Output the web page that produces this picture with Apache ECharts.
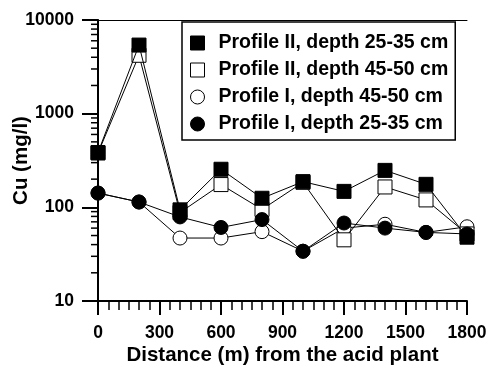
<!DOCTYPE html>
<html>
<head>
<meta charset="utf-8">
<script src="https://cdn.jsdelivr.net/npm/echarts@6/dist/echarts.min.js"></script>
<style>html,body{margin:0;padding:0;background:#fff;}#c{width:488px;height:365px;}</style>
</head>
<body>
<div id="c"></div>
<script>
var distances = [0, 200, 400, 600, 800, 1000, 1200, 1400, 1600, 1800];
var p2Deep25 = [385, 5400, 94, 255, 125, 188, 148, 248, 176, 48];
var p2Deep45 = [380, 4200, 88, 175, 95, 185, 45, 165, 120, 52];
var p1Deep45 = [142, 114, 47, 47, 55, 34, 60, 66, 54, 62];
var p1Deep25 = [142, 114, 79, 61, 74, 34, 68, 60, 54, 52];
var seriesNames = ['Profile II, depth 25-35 cm', 'Profile II, depth 45-50 cm', 'Profile I, depth 45-50 cm', 'Profile I, depth 25-35 cm'];
var yMinorTickValues = [20,30,40,50,60,70,80,90,200,300,400,500,600,700,800,900,2000,3000,4000,5000,6000,7000,8000,9000];
var xTitle = 'Distance (m) from the acid plant';
var yTitle = 'Cu (mg/l)';

function pairs(vals){ return distances.map(function(d,i){ return [d, vals[i]]; }); }
var FONT = '"Liberation Sans", Arial, sans-serif';
var chart = echarts.init(document.getElementById('c'), null, {renderer:'canvas'});
var lineStyle = {color:'#000', width:1};
function mk(name, vals, symbol, filled, z){
  return {
    name: name, type:'line', data: pairs(vals), symbol: symbol, symbolSize: 14,
    lineStyle: lineStyle, z: z, xAxisIndex:0, yAxisIndex:0,
    itemStyle: {color: filled ? '#000' : '#fff', borderColor:'#000', borderWidth: 1, opacity:1},
    emphasis:{disabled:true}, animation:false
  };
}
var labelStyle = {fontFamily:FONT, fontWeight:'bold', fontSize:17.5, color:'#000'};
var nameStyle = {fontFamily:FONT, fontWeight:'bold', fontSize:20.5, color:'#000'};
chart.setOption({
  animation:false,
  grid:{left:98, right:21, top:20, bottom:64, outerBoundsMode:'none'},
  legend:{
    orient:'vertical', left:182, top:22, data:[
      {name:seriesNames[0], icon:'rect', itemStyle:{color:'#000', borderColor:'#000', borderWidth:1}},
      {name:seriesNames[1], icon:'rect', itemStyle:{color:'#fff', borderColor:'#000', borderWidth:1}},
      {name:seriesNames[2], icon:'circle', itemStyle:{color:'#fff', borderColor:'#000', borderWidth:1}},
      {name:seriesNames[3], icon:'circle', itemStyle:{color:'#000', borderColor:'#000', borderWidth:1}}
    ],
    itemWidth:14, itemHeight:14, itemGap:7,
    borderColor:'#000', borderWidth:1.5, padding:[11,7,6,8], backgroundColor:'#fff',
    textStyle:{fontFamily:FONT, fontWeight:'bold', fontSize:19.5, lineHeight:20, color:'#000', padding:[0,0,0,9]},
    selectedMode:false
  },
  xAxis:[{
    type:'value', position:'bottom', min:0, max:1800, interval:300,
    axisLine:{show:true, lineStyle:{color:'#000', width:2}},
    axisTick:{show:true, inside:false, length:14, lineStyle:{color:'#000', width:2}},
    minorTick:{show:true, splitNumber:6, length:9, lineStyle:{color:'#000', width:1.5}},
    splitLine:{show:false},
    axisLabel:Object.assign({margin:23, formatter:function(v){return String(v);}}, labelStyle),
    name:xTitle, nameLocation:'middle', nameGap:44, nameMoveOverlap:false,
    nameTextStyle:nameStyle
  },{
    type:'value', position:'top', min:0, max:1800, interval:300,
    axisLine:{show:true, lineStyle:{color:'#000', width:1}},
    axisTick:{show:false}, axisLabel:{show:false}, splitLine:{show:false}
  }],
  yAxis:[{
    type:'log', logBase:10, position:'left', min:10, max:10000,
    axisLine:{show:true, lineStyle:{color:'#000', width:2}},
    axisTick:{show:true, inside:false, length:16, lineStyle:{color:'#000', width:2}},
    minorTick:{show:false},
    splitLine:{show:false},
    axisLabel:Object.assign({margin:24, formatter:function(v){return String(v);}}, labelStyle),
    name:yTitle, nameLocation:'middle', nameGap:66, nameRotate:90, nameMoveOverlap:false,
    nameTextStyle:nameStyle
  },{
    type:'log', logBase:10, position:'right', min:10, max:10000,
    axisLine:{show:true, lineStyle:{color:'#000', width:1.5}},
    axisTick:{show:false}, axisLabel:{show:false}, splitLine:{show:false}
  }],
  series:[
    mk(seriesNames[2], p1Deep45, 'circle', false, 2),
    mk(seriesNames[1], p2Deep45, 'rect', false, 3),
    mk(seriesNames[3], p1Deep25, 'circle', true, 4),
    mk(seriesNames[0], p2Deep25, 'rect', true, 5)
  ]
});
// log minor ticks placed through the library's own axis scale
var tickEls = yMinorTickValues.map(function(v){
  var p = chart.convertToPixel({xAxisIndex:0, yAxisIndex:0}, [0, v]);
  return {type:'line', z:100, silent:true,
          shape:{x1:p[0]-7, y1:p[1], x2:p[0], y2:p[1]},
          style:{stroke:'#000', lineWidth:1.5}};
});
chart.setOption({graphic:{elements:tickEls}});
</script>
</body>
</html>
